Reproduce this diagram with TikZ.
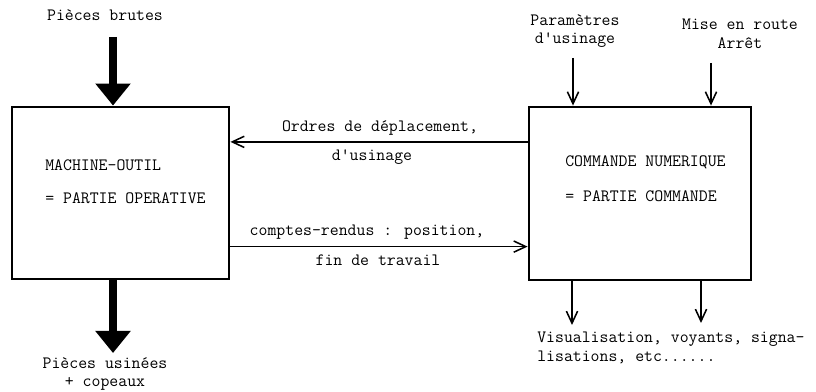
\documentclass[tikz,border=0pt]{standalone}
\usepackage{fontspec}
\usetikzlibrary{arrows.meta}

\tikzset{
  bloc/.style={draw, line width=2pt},
  flux/.style={line width=5pt, -{Triangle[width=0.85cm, length=0.55cm]}},
  signal/.style={line width=1.2pt, -{Straight Barb[length=0.3cm, width=0.28cm, line width=1.1pt]}},
  texte/.style={font=\ttfamily\fontsize{12.3}{13.2}\selectfont, inner sep=0pt}
}

\begin{document}
\begin{tikzpicture}[x=0.025cm, y=-0.025cm]
\useasboundingbox (0,0) rectangle (816,392);

% les deux parties
\node[bloc, minimum width=5.425cm, minimum height=4.3cm] (mo) at (120.5,193) {};
\node[bloc, minimum width=5.55cm, minimum height=4.325cm] (cn) at (640,193.5) {};

\node[texte, anchor=west] (mo1) at (45,165) {MACHINE-OUTIL};
\node[texte, anchor=west] (mo2) at (45,198) {= PARTIE OPERATIVE};
\node[texte, anchor=west] (cn1) at (565,162) {COMMANDE NUMERIQUE};
\node[texte, anchor=west] (cn2) at (565,196) {= PARTIE COMMANDE};

% matiere
\node[texte] (brut) at (105,15) {Pièces brutes};
\node[texte, align=center] (usine) at (105,374) {Pièces usinées\\+ copeaux};
\coordinate (inA) at (113,37);
\coordinate (outA) at (113,353);
\draw[flux] (inA) -- (inA |- mo.north);
\draw[flux] (mo.south -| outA) -- (outA);

% echanges
\node[texte] (ord1) at (380,128) {Ordres de déplacement,};
\node[texte] (ord2) at (372,157) {d'usinage};
\node[texte] (cr1) at (367,232) {comptes-rendus : position,};
\node[texte] (cr2) at (378,260) {fin de travail};
\draw[signal] ([yshift=1.29cm]cn.west) -- ([yshift=1.29cm]cn.west -| mo.east);
\draw[signal] ([yshift=-1.34cm]mo.east) -- ([yshift=-1.34cm]mo.east -| cn.west);

% commande
\node[texte, align=center] (param) at (575,31) {Paramètres\\d'usinage};
\node[texte, align=center] (marche) at (740,34) {Mise en route\\Arrêt};
\coordinate (inP) at (573,58);
\coordinate (inM) at (711,63);
\draw[signal] (inP) -- (inP |- cn.north);
\draw[signal] (inM) -- (inM |- cn.north);

\node[texte, anchor=north west, align=left] (visu) at (537,332) {Visualisation, voyants, signa-\\lisations, etc......};
\coordinate (outV) at (572,325);
\coordinate (outS) at (701,323);
\draw[signal] (cn.south -| outV) -- (outV);
\draw[signal] (cn.south -| outS) -- (outS);
\end{tikzpicture}
\end{document}
